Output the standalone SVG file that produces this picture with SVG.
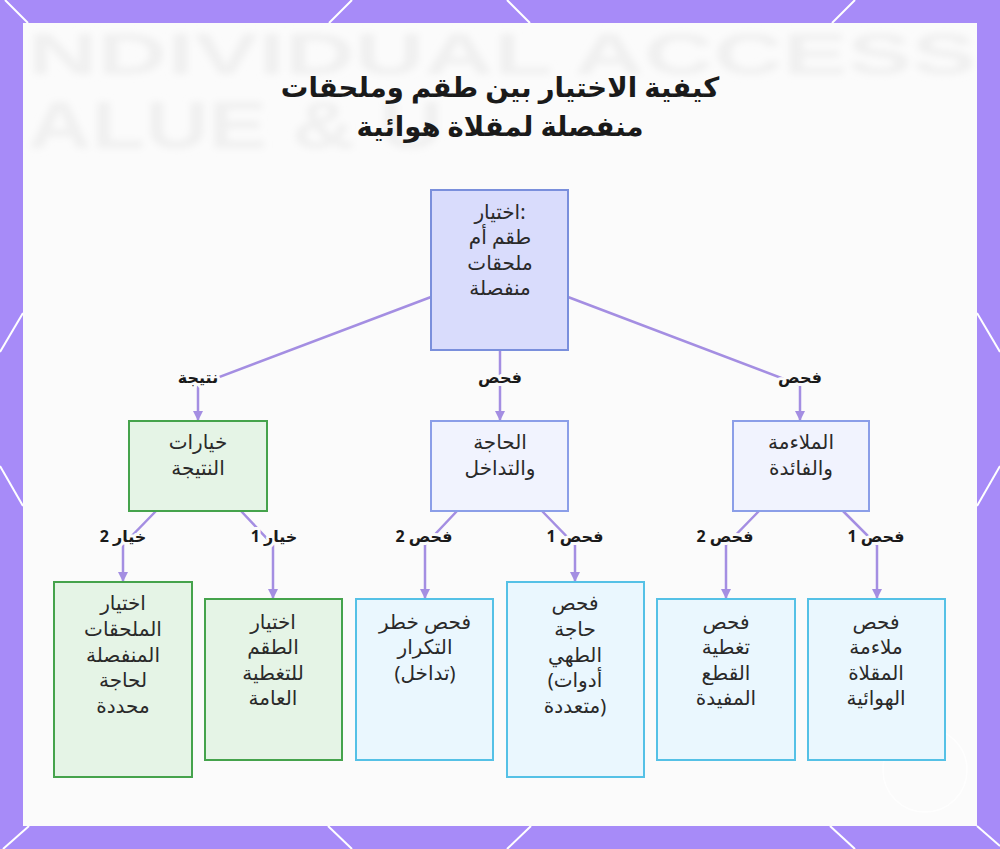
<svg xmlns="http://www.w3.org/2000/svg" width="1000" height="849" viewBox="0 0 1000 849">
<style>
.bgline{stroke:#ffffff;stroke-width:2;fill:none}
.wm{font-family:"Liberation Sans",Arial,sans-serif;font-weight:bold;fill:#f0f0f0}
.title{font-family:"Noto Sans","DejaVu Sans",sans-serif;font-weight:bold;font-size:27.5px;fill:#1a1a1a;text-anchor:middle}
.nt{font-family:"Noto Sans","DejaVu Sans",sans-serif;font-size:20px;fill:#2a2a2a;text-anchor:middle}
.el{font-family:"Noto Sans","DejaVu Sans",sans-serif;font-weight:bold;font-size:16px;fill:#1a1a1a;text-anchor:middle;paint-order:stroke;stroke:#fbfbfb;stroke-width:6px;stroke-linejoin:round}
.conn{stroke:#a48ee2;stroke-width:2.5;fill:none;marker-end:url(#arr)}
.top{fill:#d9dcfc;stroke:#7a8fdc;stroke-width:2}
.mid{fill:#f1f3fe;stroke:#8b9ee8;stroke-width:2}
.grn{fill:#e5f4e6;stroke:#45a34c;stroke-width:2}
.cyn{fill:#eaf7fe;stroke:#55c1e6;stroke-width:2}
</style>
<defs>
<marker id="arr" viewBox="0 0 10 10" refX="9" refY="5" markerWidth="4" markerHeight="4" orient="auto">
<path d="M0,0 L10,5 L0,10 z" fill="#a48ee2"/>
</marker>
<filter id="blur"><feGaussianBlur stdDeviation="3.5"/></filter>
<clipPath id="panel"><rect x="23" y="23" width="954" height="803"/></clipPath>
</defs>
<rect width="1000" height="849" fill="#a78bf8"/>
<g class="bgline">
<path d="M5,0 L28,23"/><path d="M352,0 L329,23"/><path d="M507,0 L530,23"/><path d="M855,0 L832,23"/>
<path d="M29,826 L3,849"/><path d="M328,826 L352,849"/><path d="M531,826 L507,849"/><path d="M830,826 L855,849"/>
<path d="M0,352 L23,313"/><path d="M0,466 L23,506"/>
<path d="M1000,352 L977,313"/><path d="M1000,466 L977,506"/><path d="M977,826 L1000,846"/>
</g>
<rect x="23" y="23" width="954" height="803" fill="#fbfbfb"/>
<g clip-path="url(#panel)" filter="url(#blur)">
<text class="wm" x="28" y="74" font-size="58" textLength="948" lengthAdjust="spacingAndGlyphs">NDIVIDUAL ACCESS</text>
<text class="wm" x="28" y="148" font-size="66" textLength="415" lengthAdjust="spacingAndGlyphs">ALUE &amp; U</text>
</g>
<circle cx="925" cy="770" r="42" fill="none" stroke="#ffffff" stroke-width="1.5" opacity="0.8"/>
<g id="title">
<text class="title" x="500" y="97">كيفية الاختيار بين طقم وملحقات</text>
<text class="title" x="500" y="136">منفصلة لمقلاة هوائية</text>
</g>
<g id="connectors">
<path class="conn" d="M431,297 L198,385 L198,420"/>
<path class="conn" d="M500,350 L500,420"/>
<path class="conn" d="M568,297 L800,385 L800,420"/>
<path class="conn" d="M156,511 L123,545 L123,581"/>
<path class="conn" d="M241,511 L273,545 L273,598"/>
<path class="conn" d="M457,511 L425,545 L425,598"/>
<path class="conn" d="M542,511 L575,545 L575,581"/>
<path class="conn" d="M759,511 L726,545 L726,598"/>
<path class="conn" d="M843,511 L877,545 L877,598"/>
<text class="el" x="198" y="383">نتيجة</text>
<text class="el" x="500" y="383">فحص</text>
<text class="el" x="800" y="383">فحص</text>
<text class="el" x="123" y="542">خيار 2</text>
<text class="el" x="274" y="542">خيار 1</text>
<text class="el" x="424" y="542">فحص 2</text>
<text class="el" x="575" y="542">فحص 1</text>
<text class="el" x="725" y="542">فحص 2</text>
<text class="el" x="876" y="542">فحص 1</text>
</g>
<g id="n-root">
<rect class="top" x="431" y="190" width="137" height="160"/>
<text class="nt" x="500" y="219">اختيار:</text>
<text class="nt" x="500" y="244">طقم أم</text>
<text class="nt" x="500" y="270">ملحقات</text>
<text class="nt" x="500" y="295">منفصلة</text>
</g>
<g id="n-result">
<rect class="grn" x="129" y="421" width="138" height="90"/>
<text class="nt" x="198" y="449">خيارات</text>
<text class="nt" x="198" y="475">النتيجة</text>
</g>
<g id="n-need">
<rect class="mid" x="431" y="421" width="137" height="90"/>
<text class="nt" x="500" y="449">الحاجة</text>
<text class="nt" x="500" y="475">والتداخل</text>
</g>
<g id="n-fit">
<rect class="mid" x="733" y="421" width="136" height="90"/>
<text class="nt" x="801" y="449">الملاءمة</text>
<text class="nt" x="801" y="475">والفائدة</text>
</g>
<g id="n-opt2">
<rect class="grn" x="54" y="582" width="138" height="195"/>
<text class="nt" x="123" y="610">اختيار</text>
<text class="nt" x="123" y="636">الملحقات</text>
<text class="nt" x="123" y="662">المنفصلة</text>
<text class="nt" x="123" y="687">لحاجة</text>
<text class="nt" x="123" y="713">محددة</text>
</g>
<g id="n-opt1">
<rect class="grn" x="205" y="599" width="137" height="161"/>
<text class="nt" x="273" y="629">اختيار</text>
<text class="nt" x="273" y="654">الطقم</text>
<text class="nt" x="273" y="680">للتغطية</text>
<text class="nt" x="273" y="705">العامة</text>
</g>
<g id="n-overlap">
<rect class="cyn" x="356" y="599" width="137" height="161"/>
<text class="nt" x="425" y="629">فحص خطر</text>
<text class="nt" x="425" y="654">التكرار</text>
<text class="nt" x="425" y="680">(تداخل)</text>
</g>
<g id="n-cooking">
<rect class="cyn" x="507" y="582" width="137" height="195"/>
<text class="nt" x="575" y="610">فحص</text>
<text class="nt" x="575" y="636">حاجة</text>
<text class="nt" x="575" y="662">الطهي</text>
<text class="nt" x="575" y="687">(أدوات</text>
<text class="nt" x="575" y="713">متعددة)</text>
</g>
<g id="n-coverage">
<rect class="cyn" x="657" y="599" width="138" height="161"/>
<text class="nt" x="726" y="629">فحص</text>
<text class="nt" x="726" y="654">تغطية</text>
<text class="nt" x="726" y="680">القطع</text>
<text class="nt" x="726" y="705">المفيدة</text>
</g>
<g id="n-fryer">
<rect class="cyn" x="808" y="599" width="137" height="161"/>
<text class="nt" x="876" y="629">فحص</text>
<text class="nt" x="876" y="654">ملاءمة</text>
<text class="nt" x="876" y="680">المقلاة</text>
<text class="nt" x="876" y="705">الهوائية</text>
</g>
</svg>
